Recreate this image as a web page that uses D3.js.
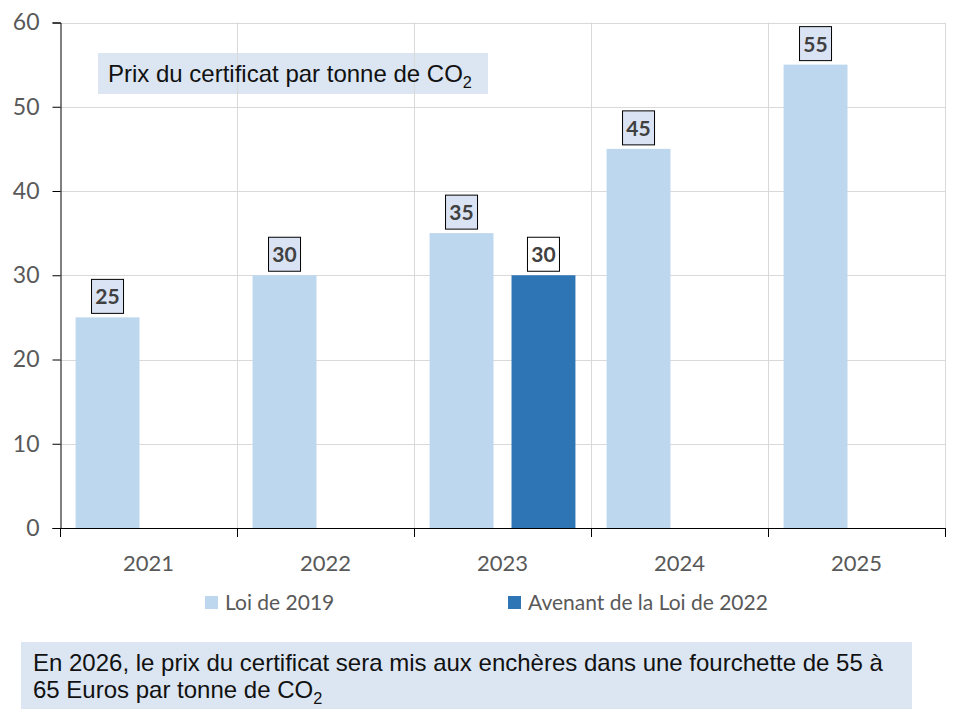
<!DOCTYPE html>
<html>
<head>
<meta charset="utf-8">
<script src="https://cdn.jsdelivr.net/npm/d3@7"></script>
<style>
  body { margin: 0; background: #fff; }
  svg { display: block; }
</style>
</head>
<body>
<div id="chart"></div>
<script>
// Chart values
const years = ["2021", "2022", "2023", "2024", "2025"];
const series = ["Loi de 2019", "Avenant de la Loi de 2022"];
const loi2019 = [25, 30, 35, 45, 55];
const avenant2022 = [null, null, 30, null, null];
const yTicks = [0, 10, 20, 30, 40, 50, 60];

const WIDTH = 960;
const HEIGHT = 720;
const PLOT = { left: 60, right: 945, top: 22.5, bottom: 528 };
const COLORS = { "Loi de 2019": "#bdd7ee", "Avenant de la Loi de 2022": "#2e75b6" };
const LABEL_FILL = { "Loi de 2019": "#dae3f3", "Avenant de la Loi de 2022": "#ffffff" };
const AXIS_FONT = "Lato, 'Open Sans', sans-serif";
const BOX_FONT = "'Liberation Sans', Arial, sans-serif";

const svg = d3
  .select("#chart")
  .append("svg")
  .attr("width", WIDTH)
  .attr("height", HEIGHT);

// scales
const x0 = d3.scaleBand().domain(years).range([PLOT.left, PLOT.right]).padding(0);
const x1 = d3
  .scaleBand()
  .domain(series)
  .range([0, x0.bandwidth()])
  .paddingInner(0.22)
  .paddingOuter(0.19);
const y = d3.scaleLinear().domain([0, 60]).range([PLOT.bottom, PLOT.top]);

// helper for text with CO2 subscript
function co2Text(sel, before) {
  sel.append("tspan").text(before + "CO");
  sel.append("tspan").attr("font-size", "0.68em").attr("dy", 6).text("2");
}

// title box (gridlines show through it in the original, so draw it first)
svg
  .append("rect")
  .attr("x", 98)
  .attr("y", 53)
  .attr("width", 390)
  .attr("height", 41)
  .attr("fill", "#dce6f2");

// gridlines
const grid = svg.append("g").attr("stroke", "#d9d9d9").attr("stroke-width", 1);
grid
  .selectAll("line.h")
  .data(yTicks.slice(1))
  .enter()
  .append("line")
  .attr("x1", PLOT.left)
  .attr("x2", PLOT.right)
  .attr("y1", (d) => Math.round(y(d)) + 0.5)
  .attr("y2", (d) => Math.round(y(d)) + 0.5);
grid
  .selectAll("line.v")
  .data(years)
  .enter()
  .append("line")
  .attr("x1", (d) => Math.round(x0(d) + x0.bandwidth()) + 0.5)
  .attr("x2", (d) => Math.round(x0(d) + x0.bandwidth()) + 0.5)
  .attr("y1", PLOT.top)
  .attr("y2", PLOT.bottom);

svg
  .append("text")
  .attr("x", 108)
  .attr("y", 82)
  .attr("font-family", BOX_FONT)
  .attr("font-size", 24)
  .attr("fill", "#111")
  .call(co2Text, "Prix du certificat par tonne de ");

// bars
const rows = years.map((yr, i) => ({
  year: yr,
  values: [
    { key: series[0], value: loi2019[i] },
    { key: series[1], value: avenant2022[i] },
  ].filter((d) => d.value != null),
}));

const groups = svg
  .selectAll("g.year")
  .data(rows)
  .enter()
  .append("g")
  .attr("class", "year")
  .attr("transform", (d) => `translate(${x0(d.year)},0)`);

groups
  .selectAll("rect")
  .data((d) => d.values)
  .enter()
  .append("rect")
  .attr("x", (d) => x1(d.key))
  .attr("y", (d) => y(d.value))
  .attr("width", x1.bandwidth())
  .attr("height", (d) => y(0) - y(d.value))
  .attr("fill", (d) => COLORS[d.key]);

// data labels in small boxes
const labels = groups
  .selectAll("g.lbl")
  .data((d) => d.values)
  .enter()
  .append("g")
  .attr("class", "lbl");

labels
  .append("rect")
  .attr("x", (d) => x1(d.key) + x1.bandwidth() / 2 - 16)
  .attr("y", (d) => y(d.value) - 38)
  .attr("width", 32)
  .attr("height", 34)
  .attr("fill", (d) => LABEL_FILL[d.key])
  .attr("stroke", "#000")
  .attr("stroke-width", 1);

labels
  .append("text")
  .attr("x", (d) => x1(d.key) + x1.bandwidth() / 2)
  .attr("y", (d) => y(d.value) - 13)
  .attr("text-anchor", "middle")
  .attr("font-family", AXIS_FONT)
  .attr("font-weight", "bold")
  .attr("font-size", 21)
  .attr("fill", "#404040")
  .text((d) => d.value);

// y axis
const yAxis = svg
  .append("g")
  .attr("transform", `translate(${PLOT.left + 0.5},0)`)
  .call(d3.axisLeft(y).tickValues(yTicks).tickSize(8).tickPadding(13));
yAxis.select(".domain").attr("stroke", "#000");
yAxis.selectAll(".tick line").attr("stroke", "#000");
yAxis
  .selectAll(".tick text")
  .attr("font-family", AXIS_FONT)
  .attr("font-size", 23)
  .attr("fill", "#595959");

// x axis (ticks at band boundaries)
const boundaries = [PLOT.left].concat(years.map((d) => x0(d) + x0.bandwidth()));
const xAxis = svg.append("g");
xAxis
  .append("line")
  .attr("x1", PLOT.left)
  .attr("x2", PLOT.right)
  .attr("y1", PLOT.bottom + 0.5)
  .attr("y2", PLOT.bottom + 0.5)
  .attr("stroke", "#000");
xAxis
  .selectAll("line.tick")
  .data(boundaries)
  .enter()
  .append("line")
  .attr("x1", (d) => Math.round(d) + 0.5)
  .attr("x2", (d) => Math.round(d) + 0.5)
  .attr("y1", PLOT.bottom)
  .attr("y2", PLOT.bottom + 9)
  .attr("stroke", "#000");
xAxis
  .selectAll("text")
  .data(years)
  .enter()
  .append("text")
  .attr("x", (d) => x0(d) + x0.bandwidth() / 2)
  .attr("y", 571)
  .attr("text-anchor", "middle")
  .attr("font-family", AXIS_FONT)
  .attr("font-size", 22)
  .attr("fill", "#595959")
  .text((d) => d);

// legend
const legendX = [205, 508];
const legend = svg
  .selectAll("g.legend")
  .data(series)
  .enter()
  .append("g")
  .attr("class", "legend")
  .attr("transform", (d, i) => `translate(${legendX[i]},596)`);
legend
  .append("rect")
  .attr("width", 13)
  .attr("height", 13)
  .attr("fill", (d) => COLORS[d]);
legend
  .append("text")
  .attr("x", 20)
  .attr("y", 14)
  .attr("font-family", AXIS_FONT)
  .attr("font-size", 21)
  .attr("fill", "#595959")
  .text((d) => d);

// footnote box
svg
  .append("rect")
  .attr("x", 21)
  .attr("y", 642)
  .attr("width", 891)
  .attr("height", 67)
  .attr("fill", "#dce6f2");
svg
  .append("text")
  .attr("x", 33)
  .attr("y", 671)
  .attr("font-family", BOX_FONT)
  .attr("font-size", 24)
  .attr("fill", "#111")
  .text("En 2026, le prix du certificat sera mis aux enchères dans une fourchette de 55 à");
svg
  .append("text")
  .attr("x", 33)
  .attr("y", 698)
  .attr("font-family", BOX_FONT)
  .attr("font-size", 24)
  .attr("fill", "#111")
  .call(co2Text, "65 Euros par tonne de ");
</script>
</body>
</html>
